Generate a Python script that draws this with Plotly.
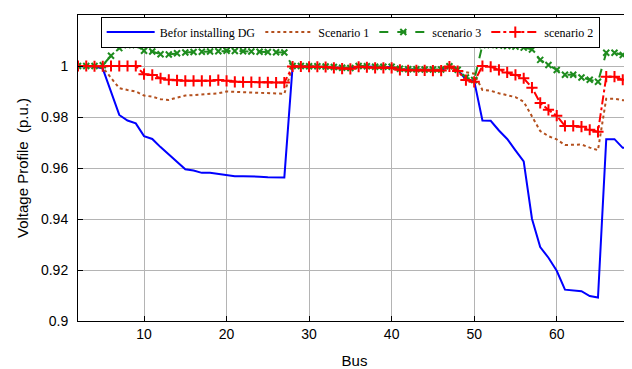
import plotly.graph_objects as go

bus = list(range(1, 70))

before_dg = [1.0000, 1.0000, 0.9999, 0.9998, 0.9990, 0.9901, 0.9808, 0.9786, 0.9775, 0.9725,
             0.9714, 0.9682, 0.9653, 0.9624, 0.9595, 0.9590, 0.9581, 0.9581, 0.9576, 0.9573,
             0.9568, 0.9568, 0.9568, 0.9566, 0.9564, 0.9564, 0.9563, 0.9999, 0.9999, 0.9997,
             0.9997, 0.9996, 0.9994, 0.9990, 0.9990, 0.9999, 0.9998, 0.9996, 0.9995, 0.9995,
             0.9988, 0.9986, 0.9985, 0.9985, 0.9984, 0.9984, 0.9998, 0.9985, 0.9947, 0.9942,
             0.9786, 0.9785, 0.9747, 0.9714, 0.9669, 0.9626, 0.9401, 0.9290, 0.9248, 0.9197,
             0.9123, 0.9121, 0.9117, 0.9098, 0.9092, 0.9713, 0.9713, 0.9679, 0.9679]

scenario_1 = [1.0000, 1.0000, 0.9999, 0.9998, 0.9994, 0.9952, 0.9913, 0.9906, 0.9900, 0.9884,
              0.9880, 0.9870, 0.9867, 0.9876, 0.9884, 0.9886, 0.9888, 0.9889, 0.9893, 0.9900,
              0.9899, 0.9898, 0.9896, 0.9894, 0.9893, 0.9892, 0.9891, 0.9999, 0.9999, 0.9998,
              0.9998, 0.9997, 0.9995, 0.9992, 0.9991, 0.9999, 0.9998, 0.9996, 0.9996, 0.9996,
              0.9989, 0.9987, 0.9986, 0.9986, 0.9985, 0.9985, 0.9999, 0.9982, 0.9976, 0.9970,
              0.9906, 0.9903, 0.9893, 0.9885, 0.9878, 0.9860, 0.9800, 0.9745, 0.9725, 0.9712,
              0.9690, 0.9690, 0.9692, 0.9680, 0.9670, 0.9872, 0.9872, 0.9866, 0.9866]

scenario_3 = [1.0000, 1.0000, 1.0000, 1.0000, 1.0003, 1.0040, 1.0070, 1.0082, 1.0082, 1.0060,
              1.0057, 1.0046, 1.0045, 1.0050, 1.0053, 1.0055, 1.0056, 1.0057, 1.0058, 1.0060,
              1.0059, 1.0058, 1.0057, 1.0056, 1.0055, 1.0054, 1.0053, 1.0000, 1.0000, 0.9999,
              0.9999, 0.9998, 0.9996, 0.9993, 0.9992, 1.0000, 0.9999, 0.9997, 0.9997, 0.9997,
              0.9989, 0.9987, 0.9987, 0.9986, 0.9986, 0.9986, 0.9999, 0.9985, 0.9955, 0.9945,
              1.0082, 1.0082, 1.0080, 1.0078, 1.0076, 1.0072, 1.0065, 1.0024, 1.0004, 0.9984,
              0.9966, 0.9966, 0.9955, 0.9946, 0.9938, 1.0052, 1.0052, 1.0043, 1.0043]

scenario_2 = [1.0000, 1.0000, 1.0000, 0.9999, 0.9999, 1.0000, 1.0000, 1.0000, 1.0000, 0.9968,
              0.9965, 0.9952, 0.9946, 0.9944, 0.9942, 0.9942, 0.9942, 0.9942, 0.9945, 0.9942,
              0.9938, 0.9937, 0.9937, 0.9936, 0.9936, 0.9935, 0.9935, 0.9998, 0.9998, 0.9997,
              0.9997, 0.9996, 0.9993, 0.9990, 0.9989, 0.9997, 0.9995, 0.9993, 0.9993, 0.9993,
              0.9985, 0.9983, 0.9983, 0.9983, 0.9982, 0.9982, 0.9998, 0.9980, 0.9945, 0.9938,
              1.0000, 0.9997, 0.9985, 0.9975, 0.9965, 0.9952, 0.9915, 0.9855, 0.9828, 0.9805,
              0.9765, 0.9765, 0.9762, 0.9750, 0.9742, 0.9958, 0.9958, 0.9946, 0.9946]

x_ticks = [10, 20, 30, 40, 50, 60]
y_ticks = [0.90, 0.92, 0.94, 0.96, 0.98, 1.00, 1.02]
y_tick_labels = ["0.9", "0.92", "0.94", "0.96", "0.98", "1", "1.02"]

fig = go.Figure()
fig.add_trace(go.Scatter(x=bus, y=before_dg, mode="lines", name="Befor installing DG",
                         line=dict(color="#0000FF", width=2)))
fig.add_trace(go.Scatter(x=bus, y=scenario_1, mode="lines", name="Scenario 1",
                         line=dict(color="#B4501E", width=2, dash="dot")))
fig.add_trace(go.Scatter(x=bus, y=scenario_3, mode="lines+markers", name="scenario 3",
                         line=dict(color="#1E8C1E", width=2, dash="dash"),
                         marker=dict(symbol="x-thin-open", size=6, color="#1E8C1E",
                                     line=dict(color="#1E8C1E", width=2))))
fig.add_trace(go.Scatter(x=bus, y=scenario_2, mode="lines+markers", name="scenario 2",
                         line=dict(color="#FF0000", width=2, dash="dashdot"),
                         marker=dict(symbol="cross-thin-open", size=8, color="#FF0000",
                                     line=dict(color="#FF0000", width=2))))

axis_common = dict(showline=True, linecolor="black", linewidth=1, mirror="ticks",
                   ticks="inside", ticklen=5, tickcolor="black",
                   showgrid=True, gridcolor="#b4b4b4", gridwidth=1, zeroline=False,
                   tickfont=dict(family="Liberation Sans, Arial", size=14, color="black"))

fig.update_xaxes(range=[2, 69], tickvals=x_ticks, **axis_common,
                 title=dict(text="Bus", font=dict(family="Liberation Sans, Arial", size=15, color="black"),
                            standoff=14))
fig.update_yaxes(range=[0.9, 1.02], tickvals=y_ticks, ticktext=y_tick_labels, **axis_common,
                 ticklabelstandoff=6,
                 title=dict(text="Voltage Profile \u00a0(p.u.)",
                            font=dict(family="Liberation Sans, Arial", size=15, color="black"),
                            standoff=8))

# The page body adds an 8px margin, so the figure is sized 8px smaller than the window.
fig.update_layout(
    width=624, height=361,
    margin=dict(l=70, r=1, t=7, b=48),
    paper_bgcolor="white", plot_bgcolor="white",
    showlegend=True,
    legend=dict(orientation="h", x=0.041, y=0.995, xanchor="left", yanchor="top",
                bgcolor="white", bordercolor="black", borderwidth=1,
                font=dict(family="Liberation Serif, Times New Roman", size=12, color="black"),
                itemwidth=48, tracegroupgap=0),
)

fig.write_html("out.html")
